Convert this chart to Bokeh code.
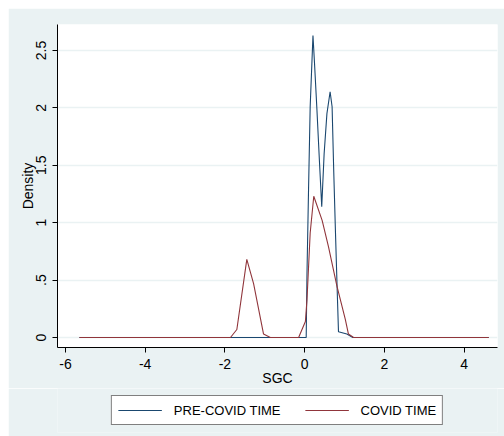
from bokeh.plotting import figure
from bokeh.layouts import column
from bokeh.models import FixedTicker, Legend, LegendItem, Range1d
from bokeh.embed import file_html
from bokeh.resources import INLINE

# Kernel density estimates
pre_x = [-5.65, 0.04, 0.06, 0.10, 0.14, 0.21, 0.25, 0.31, 0.37, 0.43, 0.49,
         0.56, 0.64, 0.69, 0.73, 0.77, 0.81, 0.85, 1.06, 1.21, 4.62]
pre_y = [0.0, 0.0, 0.56, 1.31, 2.01, 2.63, 2.38, 1.98, 1.55, 1.14, 1.60,
         1.95, 2.14, 2.01, 1.46, 0.97, 0.50, 0.05, 0.03, 0.0, 0.0]

covid_x = [-5.65, -1.86, -1.70, -1.45, -1.28, -1.03, -0.86, -0.15, 0.02, 0.06,
           0.14, 0.23, 0.44, 0.60, 0.81, 1.02, 1.10, 1.23, 4.62]
covid_y = [0.0, 0.0, 0.07, 0.68, 0.47, 0.03, 0.0, 0.0, 0.14, 0.33,
           0.91, 1.23, 1.02, 0.79, 0.45, 0.16, 0.03, 0.0, 0.0]

x_ticks = [-6, -4, -2, 0, 2, 4]
x_tick_labels = ["-6", "-4", "-2", "0", "2", "4"]
y_ticks = [0, 0.5, 1, 1.5, 2, 2.5]
y_tick_labels = ["0", ".5", "1", "1.5", "2", "2.5"]
series_names = ["PRE-COVID TIME", "COVID TIME"]

BG = "#EAF2F3"
NAVY = "#1A476F"
MAROON = "#90353B"
FONT = "Liberation Sans"

p = figure(width=496, height=380, output_backend="svg", toolbar_location=None,
           x_range=Range1d(-6.2, 4.84), y_range=Range1d(-0.087, 2.726),
           min_border_left=49, min_border_right=7, min_border_top=16,
           min_border_bottom=40,
           background_fill_color="white", border_fill_color=BG,
           outline_line_color=None)

p.line(pre_x, pre_y, line_color=NAVY, line_width=1.1)
p.line(covid_x, covid_y, line_color=MAROON, line_width=1.1)

p.xgrid.visible = False
p.ygrid.grid_line_color = BG
p.ygrid.grid_line_width = 1.5
p.ygrid.ticker = FixedTicker(ticks=y_ticks)

p.xaxis.ticker = FixedTicker(ticks=x_ticks)
p.xaxis.major_label_overrides = {t: l for t, l in zip(x_ticks, x_tick_labels)}
p.yaxis.ticker = FixedTicker(ticks=y_ticks)
p.yaxis.major_label_overrides = {t: l for t, l in zip(y_ticks, y_tick_labels)}
p.yaxis.major_label_orientation = "parallel"

for ax in (p.xaxis[0], p.yaxis[0]):
    ax.axis_line_color = "black"
    ax.axis_line_width = 1
    ax.major_tick_line_color = "black"
    ax.major_tick_in = 0
    ax.major_tick_out = 5
    ax.minor_tick_line_color = None
    ax.major_label_text_font = FONT
    ax.major_label_text_font_size = "14px"
    ax.major_label_text_color = "black"
    ax.major_label_standoff = 6
    ax.axis_label_text_font = FONT
    ax.axis_label_text_font_size = "14px"
    ax.axis_label_text_font_style = "normal"
    ax.axis_label_text_color = "black"
    ax.axis_label_standoff = -2

p.xaxis.axis_label = "SGC"
p.yaxis.axis_label = "Density"

# legend strip below the plot (its lines are drawn outside its visible range)
lg = figure(width=496, height=48, output_backend="svg", toolbar_location=None,
            x_range=Range1d(-6.2, 4.84), y_range=Range1d(-20, -19),
            x_axis_type=None, y_axis_type=None,
            min_border_left=42, min_border_right=0, min_border_top=0,
            min_border_bottom=4,
            background_fill_color=BG, border_fill_color=BG,
            outline_line_color=None)
lg.xgrid.visible = False
lg.ygrid.visible = False
g1 = lg.line(pre_x, pre_y, line_color=NAVY, line_width=1.1)
g2 = lg.line(covid_x, covid_y, line_color=MAROON, line_width=1.1)

legend = Legend(items=[LegendItem(label=series_names[0], renderers=[g1]),
                       LegendItem(label=series_names[1], renderers=[g2])],
                orientation="horizontal", location="center",
                border_line_color="black", border_line_width=1,
                background_fill_color="white", background_fill_alpha=1,
                label_text_font=FONT, label_text_font_size="13px",
                label_text_color="black",
                glyph_width=44, glyph_height=16, label_standoff=12,
                spacing=24, padding=6, margin=0)
lg.add_layout(legend)

layout = column(p, lg, spacing=0)
layout.margin = (8, 0, 0, 8)

open("out.html", "w").write(file_html(layout, INLINE))
